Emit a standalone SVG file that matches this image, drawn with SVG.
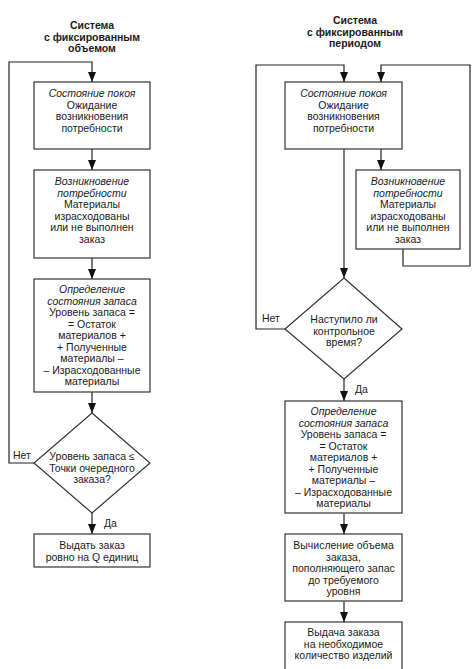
<svg xmlns="http://www.w3.org/2000/svg" width="474" height="669" viewBox="0 0 474 669">
<defs>
<marker id="arr" markerUnits="userSpaceOnUse" markerWidth="10" markerHeight="8" refX="10" refY="4" orient="auto">
<path d="M0,0 L10,4 L0,8 z" fill="#111"/>
</marker>
<style>
.box{fill:#fff;stroke:#333;stroke-width:1.2}
.ln{fill:none;stroke:#222;stroke-width:1.2}
.arw{fill:none;stroke:#222;stroke-width:1.2;marker-end:url(#arr)}
text{font-family:"Liberation Sans",Arial,sans-serif;font-size:10.5px;fill:#1a1a1a;text-anchor:middle}
.it{font-style:italic}
.ttl{font-weight:bold;font-size:10.5px}
.lbl{text-anchor:start}
</style>
</defs>
<rect width="474" height="669" fill="#fff"/>

<g id="title-left">
<text class="ttl" x="92" y="29">Система</text>
<text class="ttl" x="92" y="40.5">с фиксированным</text>
<text class="ttl" x="92" y="52">объемом</text>
</g>
<g id="title-right">
<text class="ttl" x="355" y="24">Система</text>
<text class="ttl" x="355" y="35.5">с фиксированным</text>
<text class="ttl" x="355" y="47">периодом</text>
</g>

<g id="connectors">
<polyline class="arw" points="34,463 9,463 9,62 92,62 92,82"/>
<line class="arw" x1="92" y1="149" x2="92" y2="170"/>
<line class="arw" x1="92" y1="258" x2="92" y2="279"/>
<line class="arw" x1="92" y1="392" x2="92" y2="413"/>
<line class="arw" x1="92" y1="513" x2="92" y2="534"/>

<polyline class="arw" points="285,329 256,329 256,65 344,65 344,82"/>
<polyline class="arw" points="403,249 403,266 470,266 470,65 381,65 381,82"/>
<line class="arw" x1="381" y1="149" x2="381" y2="170"/>
<line class="arw" x1="344" y1="149" x2="344" y2="278"/>
<line class="arw" x1="344" y1="379" x2="344" y2="401"/>
<line class="arw" x1="344" y1="513" x2="344" y2="534"/>
<line class="arw" x1="344" y1="601" x2="344" y2="622"/>

<text class="lbl" x="13" y="459">Нет</text>
<text class="lbl" x="104" y="527">Да</text>
<text class="lbl" x="262" y="322">Нет</text>
<text class="lbl" x="355" y="393">Да</text>
</g>

<g id="L1">
<rect class="box" x="34" y="82" width="116" height="67"/>
<text class="it" x="92" y="97">Состояние покоя</text>
<text x="92" y="108.5">Ожидание</text>
<text x="92" y="120">возникновения</text>
<text x="92" y="131.5">потребности</text>
</g>
<g id="L2">
<rect class="box" x="34" y="170" width="116" height="88"/>
<text class="it" x="92" y="185">Возникновение</text>
<text class="it" x="92" y="196.5">потребности</text>
<text x="92" y="208">Материалы</text>
<text x="92" y="219.5">израсходованы</text>
<text x="92" y="231">или не выполнен</text>
<text x="92" y="242.5">заказ</text>
</g>
<g id="L3">
<rect class="box" x="34" y="279" width="116" height="113"/>
<text class="it" x="92" y="293">Определение</text>
<text class="it" x="92" y="304.5">состояния запаса</text>
<text x="92" y="316">Уровень запаса =</text>
<text x="92" y="327.5">= Остаток</text>
<text x="92" y="339">материалов +</text>
<text x="92" y="350.5">+ Полученные</text>
<text x="92" y="362">материалы –</text>
<text x="92" y="373.5">– Израсходованные</text>
<text x="92" y="385">материалы</text>
</g>
<g id="L4">
<polygon class="box" points="92,413 150,463 92,513 34,463"/>
<text x="92" y="460">Уровень запаса ≤</text>
<text x="92" y="471.5">Точки очередного</text>
<text x="92" y="483">заказа?</text>
</g>
<g id="L5">
<rect class="box" x="34" y="534" width="116" height="33"/>
<text x="92" y="549">Выдать заказ</text>
<text x="92" y="560.5">ровно на Q единиц</text>
</g>

<g id="R1">
<rect class="box" x="285" y="82" width="117" height="67"/>
<text class="it" x="343.5" y="97">Состояние покоя</text>
<text x="343.5" y="108.5">Ожидание</text>
<text x="343.5" y="120">возникновения</text>
<text x="343.5" y="131.5">потребности</text>
</g>
<g id="R2">
<rect class="box" x="356" y="170" width="104" height="79"/>
<text class="it" x="408" y="185">Возникновение</text>
<text class="it" x="408" y="196.5">потребности</text>
<text x="408" y="208">Материалы</text>
<text x="408" y="219.5">израсходованы</text>
<text x="408" y="231">или не выполнен</text>
<text x="408" y="242.5">заказ</text>
</g>
<g id="R3">
<polygon class="box" points="344,278 402,329 344,379 285,329"/>
<text x="344" y="323">Наступило ли</text>
<text x="344" y="334.5">контрольное</text>
<text x="344" y="346">время?</text>
</g>
<g id="R4">
<rect class="box" x="285" y="401" width="117" height="112"/>
<text class="it" x="343.5" y="415">Определение</text>
<text class="it" x="343.5" y="426.5">состояния запаса</text>
<text x="343.5" y="438">Уровень запаса =</text>
<text x="343.5" y="449.5">= Остаток</text>
<text x="343.5" y="461">материалов +</text>
<text x="343.5" y="472.5">+ Полученные</text>
<text x="343.5" y="484">материалы –</text>
<text x="343.5" y="495.5">– Израсходованные</text>
<text x="343.5" y="507">материалы</text>
</g>
<g id="R5">
<rect class="box" x="285" y="534" width="117" height="67"/>
<text x="343.5" y="549">Вычисление объема</text>
<text x="343.5" y="560.5">заказа,</text>
<text x="343.5" y="572">пополняющего запас</text>
<text x="343.5" y="583.5">до требуемого</text>
<text x="343.5" y="595">уровня</text>
</g>
<g id="R6">
<rect class="box" x="285" y="622" width="117" height="52"/>
<text x="343.5" y="636">Выдача заказа</text>
<text x="343.5" y="647.5">на необходимое</text>
<text x="343.5" y="659">количество изделий</text>
</g>
</svg>
